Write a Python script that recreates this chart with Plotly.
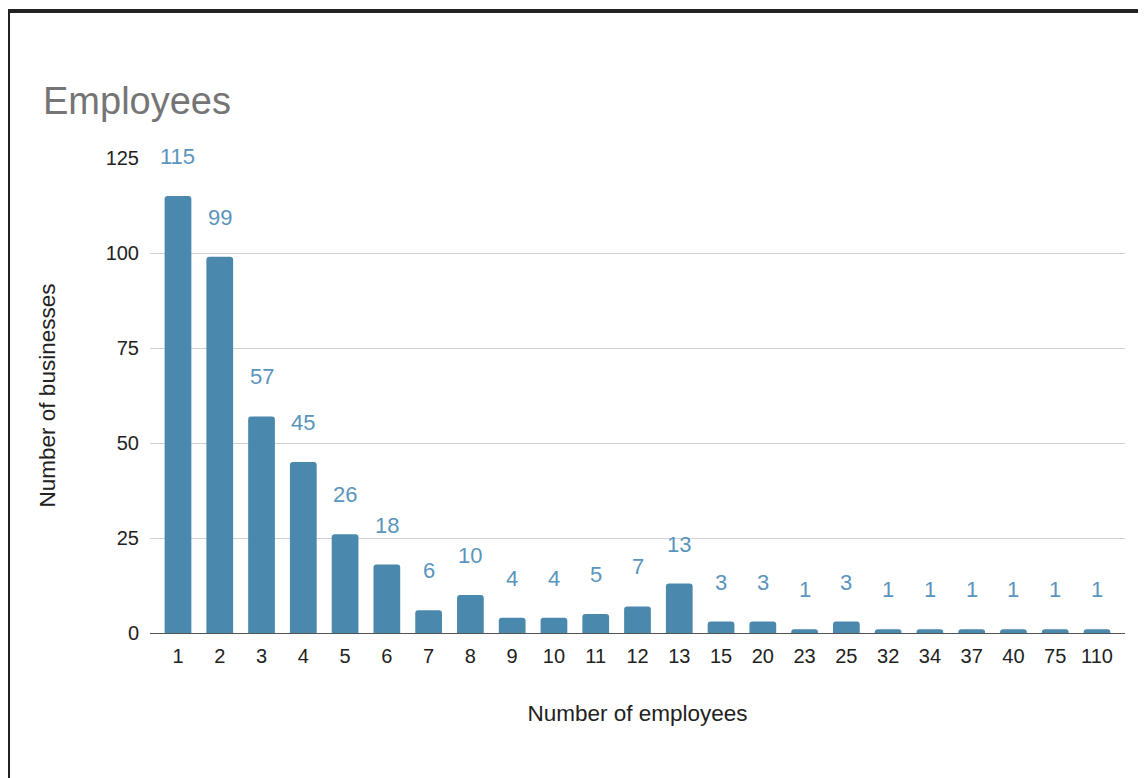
import plotly.graph_objects as go

categories = ["1", "2", "3", "4", "5", "6", "7", "8", "9", "10", "11", "12", "13",
              "15", "20", "23", "25", "32", "34", "37", "40", "75", "110"]
businesses = [115, 99, 57, 45, 26, 18, 6, 10, 4, 4, 5, 7, 13,
              3, 3, 1, 3, 1, 1, 1, 1, 1, 1]
y_ticks = [0, 25, 50, 75, 100, 125]

W, H = 1138, 770
ML, MR, MT, MB = 142, 21, 150, 145
PW, PH = W - ML - MR, H - MT - MB
FONT = "Arial, Liberation Sans, sans-serif"
BAR = "#4b88ad"
LABEL = "#5a95bd"

fig = go.Figure()
fig.add_trace(go.Bar(
    x=categories, y=businesses,
    marker=dict(color=BAR, cornerradius=3, line=dict(width=0)),
    hoverinfo="x+y",
))

for i, v in enumerate(businesses):
    fig.add_annotation(x=i, y=v, text=str(v), showarrow=False,
                       yanchor="bottom", yshift=25,
                       font=dict(family=FONT, size=22, color=LABEL))

def px_to_paper_x(px):
    return (px - ML) / PW

def px_to_paper_y(py):
    return (H - MB - py) / PH

# frame border (top and left edges visible in reference)
border = dict(color="#222222", width=4)
fig.add_shape(type="line", xref="paper", yref="paper",
              x0=px_to_paper_x(0), x1=px_to_paper_x(W + 5),
              y0=px_to_paper_y(3), y1=px_to_paper_y(3), line=border)
fig.add_shape(type="line", xref="paper", yref="paper",
              x0=px_to_paper_x(0), x1=px_to_paper_x(0),
              y0=px_to_paper_y(3), y1=px_to_paper_y(H + 5), line=border)

fig.update_layout(
    width=W, height=H,
    margin=dict(l=ML, r=MR, t=MT, b=MB, autoexpand=False),
    paper_bgcolor="white", plot_bgcolor="white",
    showlegend=False,
    bargap=0.36,
    font=dict(family=FONT, color="#222222"),
    title=dict(text="Employees", x=35 / W, xanchor="left", xref="container",
               y=1 - 93 / H, yanchor="middle", yref="container",
               font=dict(family=FONT, size=38, color="#757575")),
)
fig.update_xaxes(
    type="category", range=[-0.67, len(categories) - 0.33],
    showgrid=False, showline=False, ticks="",
    ticklabelstandoff=9,
    tickfont=dict(family=FONT, size=20, color="#222222"),
    title=dict(text="Number of employees", standoff=39,
               font=dict(family=FONT, size=22.5, color="#222222")),
    automargin=False,
)
fig.update_yaxes(
    range=[0, 125], tickvals=y_ticks,
    showgrid=True, gridcolor="#d0d0d0", gridwidth=1,
    zeroline=True, zerolinecolor="#555555", zerolinewidth=1,
    showline=False, ticks="",
    ticklabelstandoff=10,
    tickfont=dict(family=FONT, size=20, color="#222222"),
    title=dict(text="Number of businesses", standoff=43,
               font=dict(family=FONT, size=22.5, color="#222222")),
    automargin=False,
)

fig.write_html("out.html")
